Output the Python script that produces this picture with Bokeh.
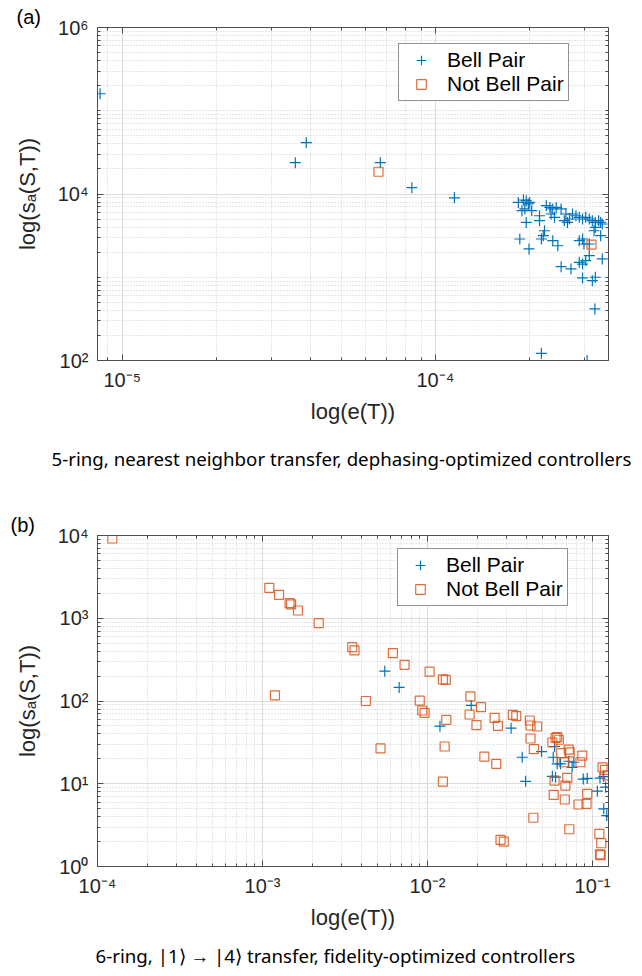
from bokeh.plotting import figure
from bokeh.models import (LogAxis, FixedTicker, CustomJSTickFormatter, Legend,
                          LegendItem, Title, Range1d)
from bokeh.layouts import column
from bokeh.embed import file_html
from bokeh.resources import INLINE

# ---------------- Panel (a): 5-ring, dephasing-optimized ----------------
a_bell_e = [8.5e-6, 3.57e-5, 3.87e-5, 6.67e-5, 8.41e-5, 1.15e-4,
            1.84e-4, 1.91e-4, 1.95e-4, 2.00e-4, 1.89e-4, 1.93e-4, 2.03e-4, 1.98e-4,
            1.95e-4, 2.15e-4, 2.15e-4, 2.26e-4, 2.32e-4, 2.37e-4, 2.43e-4, 2.52e-4,
            2.34e-4, 2.40e-4, 2.61e-4, 2.68e-4, 2.74e-4, 2.81e-4, 2.88e-4, 2.95e-4,
            3.02e-4, 3.10e-4, 3.17e-4, 3.24e-4, 3.32e-4, 3.37e-4, 3.41e-4, 2.58e-4,
            2.64e-4, 3.24e-4, 3.21e-4, 3.37e-4, 2.23e-4, 2.21e-4, 2.18e-4, 2.37e-4,
            2.46e-4, 1.86e-4, 1.99e-4, 2.88e-4, 2.95e-4, 2.98e-4, 3.10e-4, 3.10e-4,
            3.02e-4, 2.88e-4, 2.95e-4, 2.52e-4, 2.71e-4, 3.41e-4, 2.95e-4, 3.24e-4,
            3.17e-4, 3.23e-4, 2.18e-4, 3.05e-4]
a_bell_s = [1.6e5, 2.38e4, 4.13e4, 2.38e4, 1.19e4, 9.0e3,
            7.93e3, 8.47e3, 8.32e3, 7.93e3, 6.31e3, 6.61e3, 6.31e3, 7.59e3,
            4.56e3, 5.48e3, 4.78e3, 7.24e3, 6.9e3, 6.61e3, 6.9e3, 6.61e3,
            5.75e3, 5.24e3, 5.75e3, 5.01e3, 5.75e3, 5.48e3, 5.24e3, 5.01e3,
            5.24e3, 5.01e3, 4.78e3, 4.56e3, 4.78e3, 4.56e3, 4.36e3, 4.78e3,
            4.56e3, 3.97e3, 3.62e3, 3.16e3, 3.62e3, 3.16e3, 2.88e3, 2.75e3,
            2.39e3, 2.88e3, 2.19e3, 2.75e3, 2.88e3, 2.51e3, 2.51e3, 1.82e3,
            1.58e3, 1.51e3, 1.44e3, 1.34e3, 1.26e3, 1.66e3, 982, 1.0e3,
            910, 416, 122, 100]
a_not_e = [6.58e-5, 3.15e-4]
a_not_s = [1.85e4, 2.46e3]

a_x_range = (8.34e-6, 3.57e-4)
a_y_range = (1e2, 1e6)
a_x_major = [1e-5, 1e-4]
a_y_major = [1e2, 1e4, 1e6]

# ---------------- Panel (b): 6-ring, fidelity-optimized ----------------
b_bell_e = [5.51e-3, 6.73e-3, 1.84e-2, 1.19e-2, 3.21e-2, 5.89e-2, 4.91e-2,
            5.78e-2, 6.11e-2, 6.40e-2, 7.18e-2, 7.53e-2, 7.71e-2, 3.75e-2,
            3.93e-2, 5.71e-2, 5.97e-2, 8.79e-2, 9.29e-2, 0.111, 0.117, 0.107,
            0.120, 0.117, 0.122]
b_bell_s = [229, 146, 88.3, 49.6, 46.9, 28.2, 24.5,
            20.9, 17.4, 17.4, 18.7, 15.8, 18.2, 20.9,
            10.7, 12.3, 12.0, 11.4, 11.6, 11.7, 12.2, 8.13,
            9.08, 4.98, 4.13]
b_not_e = [1.23e-4, 1.10e-3, 1.26e-3, 1.46e-3, 1.49e-3, 1.64e-3, 2.19e-3,
           3.50e-3, 3.61e-3, 6.17e-3, 7.26e-3, 1.19e-3, 4.23e-3, 8.97e-3,
           9.29e-3, 9.6e-3, 1.03e-2, 1.24e-2, 1.29e-2, 1.30e-2, 1.27e-2,
           1.82e-2, 2.11e-2, 1.80e-2, 1.98e-2, 2.55e-2, 2.67e-2, 3.29e-2,
           3.45e-2, 4.17e-2, 4.21e-2, 4.62e-2, 4.21e-2, 5.97e-2, 6.25e-2,
           5.71e-2, 6.11e-2, 7.18e-2, 4.41e-2, 5.19e-3, 6.46e-2, 7.27e-2,
           8.67e-2, 8.45e-2, 6.70e-2, 2.21e-2, 2.61e-2, 1.24e-2, 5.89e-2,
           7.03e-2, 6.85e-2, 5.82e-2, 6.79e-2, 8.22e-2, 9.2e-2, 9.29e-2,
           0.115, 0.119, 0.123, 4.38e-2, 7.23e-2, 2.77e-2, 2.90e-2,
           0.110, 0.113, 0.111, 0.112]
b_not_s = [9.2e3, 2.33e3, 1.92e3, 1.52e3, 1.47e3, 1.24e3, 871,
           447, 408, 378, 274, 117, 100, 101,
           76.8, 72, 227, 183, 180, 59.3, 28.2,
           114, 84.1, 68.7, 51, 62.7, 50.1, 68.1,
           65.5, 58.1, 50.6, 49.2, 35.2, 35.9, 34.0,
           31.5, 36.5, 25.9, 26.2, 26.7, 23.4, 24.0,
           21.9, 18.2, 18.2, 21.3, 17.4, 10.6, 10.9,
           11.8, 9.5, 7.35, 6.45, 5.61, 5.72, 7.56,
           15.8, 14.7, 12.6, 3.88, 2.82, 2.10, 2.0,
           2.48, 1.91, 1.40, 1.37]

b_x_range = (1e-4, 0.125)
b_y_range = (1e0, 1e4)
b_x_major = [1e-4, 1e-3, 1e-2, 1e-1]
b_y_major = [1e0, 1e1, 1e2, 1e3, 1e4]

series_labels = ["Bell Pair", "Not Bell Pair"]
x_label = "log(e(T))"
y_label = "log(s\u2090(S,T))"
captions = ["5-ring, nearest neighbor transfer, dephasing-optimized controllers",
            "6-ring, |1\u27E9 \u2192 |4\u27E9 transfer, fidelity-optimized controllers"]
panel_tags = ["(a)", "(b)"]

BLUE = "#0072BD"
ORANGE = "#D95319"
AXC = "#4d4d4d"
TXT = "#262626"
FONT = "Liberation Sans"

SUP_CODE = """
const sup = {"-":"\\u207B","0":"\\u2070","1":"\\u00B9","2":"\\u00B2","3":"\\u00B3",
             "4":"\\u2074","5":"\\u2075","6":"\\u2076","7":"\\u2077","8":"\\u2078","9":"\\u2079"};
const e = Math.round(Math.log10(tick));
return "10" + String(e).split("").map(c => sup[c]).join("");
"""


def minor_list(lo_exp, hi_exp):
    return [m * 10.0 ** k for k in range(lo_exp, hi_exp + 1) for m in range(1, 10)]


def style_axis(ax, ticker, labelled):
    ax.ticker = ticker
    ax.axis_line_color = AXC
    ax.axis_line_width = 1
    ax.major_tick_line_color = AXC
    ax.minor_tick_line_color = AXC
    ax.major_tick_in = 6
    ax.major_tick_out = 0
    ax.minor_tick_in = 3
    ax.minor_tick_out = 0
    if labelled:
        ax.formatter = CustomJSTickFormatter(code=SUP_CODE)
        ax.major_label_text_font = FONT
        ax.major_label_text_font_size = "20px"
        ax.major_label_text_color = TXT
        ax.axis_label_text_font = FONT
        ax.axis_label_text_font_size = "22px"
        ax.axis_label_text_font_style = "normal"
        ax.axis_label_text_color = TXT
    else:
        ax.major_label_text_font_size = "0px"
        ax.major_label_text_color = None
        ax.major_label_standoff = 0


def make_panel(xr, yr, xmaj, ymaj, bell_e, bell_s, not_e, not_s,
               borders, legend_loc, cap, cap_standoff, cap_offset, tag, tag_offset):
    left, right, top, bottom = borders
    p = figure(width=642, height=488, x_axis_type="log", y_axis_type="log",
               x_range=Range1d(*xr), y_range=Range1d(*yr),
               output_backend="svg", toolbar_location=None,
               min_border_left=left, min_border_right=right,
               min_border_top=top, min_border_bottom=bottom,
               background_fill_color="white", border_fill_color="white")
    p.outline_line_color = None

    xt = FixedTicker(ticks=xmaj, minor_ticks=minor_list(-7, 1))
    yt = FixedTicker(ticks=ymaj, minor_ticks=minor_list(-1, 7))

    top_ax = LogAxis()
    right_ax = LogAxis()
    p.add_layout(top_ax, "above")
    p.add_layout(right_ax, "right")

    style_axis(p.below[0], xt, True)
    style_axis(p.left[0], yt, True)
    style_axis(top_ax, xt, False)
    style_axis(right_ax, yt, False)

    p.below[0].axis_label = x_label
    p.below[0].major_label_standoff = 8
    p.below[0].axis_label_standoff = 5
    p.left[0].axis_label = y_label
    p.left[0].major_label_standoff = 9
    p.left[0].axis_label_standoff = 15

    for g in (p.xgrid[0], p.ygrid[0]):
        g.grid_line_color = "#dcdcdc"
        g.grid_line_width = 1
        g.minor_grid_line_color = "#cdcdcd"
        g.minor_grid_line_dash = "1 2"
        g.minor_grid_line_width = 1
    p.xgrid[0].ticker = xt
    p.ygrid[0].ticker = yt

    r1 = p.scatter(bell_e, bell_s, marker="cross", size=11, line_color=BLUE,
                   line_width=1.2)
    r2 = p.scatter(not_e, not_s, marker="square", size=9, fill_color=None,
                   line_color=ORANGE, line_width=1.2, line_alpha=0.85)

    leg = Legend(items=[LegendItem(label=series_labels[0], renderers=[r1]),
                        LegendItem(label=series_labels[1], renderers=[r2])],
                 location=legend_loc)
    leg.label_text_font = FONT
    leg.label_text_font_size = "21px"
    leg.label_text_color = "black"
    leg.border_line_color = TXT
    leg.border_line_width = 1
    leg.background_fill_color = "white"
    leg.background_fill_alpha = 1
    leg.padding = 4
    leg.spacing = 0
    leg.margin = 0
    leg.glyph_width = 36
    leg.glyph_height = 24
    leg.label_height = 24
    leg.label_standoff = 8
    p.add_layout(leg)

    p.add_layout(Title(text=cap, align="left", offset=cap_offset, standoff=cap_standoff,
                       text_font="Noto Sans", text_font_size="18.7px",
                       text_font_style="normal", text_color="black"), "below")
    p.add_layout(Title(text=tag, align="left", offset=tag_offset, standoff=0,
                       text_font=FONT, text_font_size="20px",
                       text_font_style="normal", text_color="black"), "above")
    return p


pa = make_panel(a_x_range, a_y_range, a_x_major, a_y_major,
                a_bell_e, a_bell_s, a_not_e, a_not_s,
                borders=(91, 32, 27, 128), legend_loc=(301, 259),
                cap=captions[0], cap_standoff=34, cap_offset=-46,
                tag=panel_tags[0], tag_offset=-81)
pb = make_panel(b_x_range, b_y_range, b_x_major, b_y_major,
                b_bell_e, b_bell_s, b_not_e, b_not_s,
                borders=(97, 34, 47, 110), legend_loc=(300, 260),
                cap=captions[1], cap_standoff=17, cap_offset=-2,
                tag=panel_tags[1], tag_offset=-87)

layout = column(pa, pb, spacing=0)
open("out.html", "w").write(file_html(layout, INLINE))
